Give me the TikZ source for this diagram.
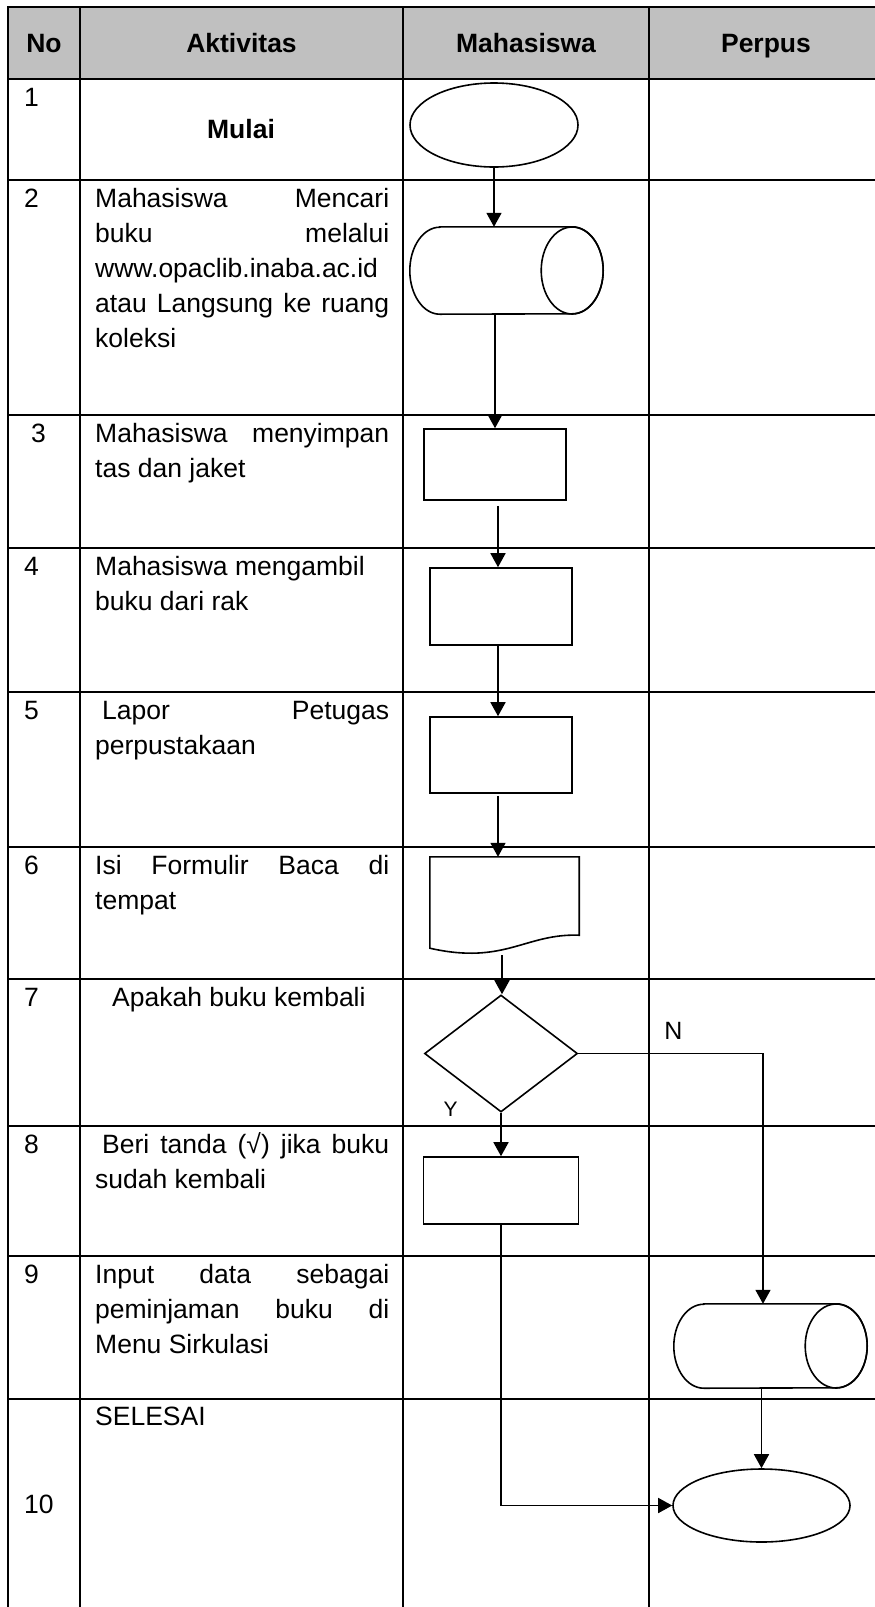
\documentclass[tikz,border=0pt]{standalone}
\usepackage{fontspec}
\setmainfont{Liberation Sans}
\usetikzlibrary{shapes.geometric,arrows.meta,calc}
\definecolor{hdgray}{HTML}{C0C0C0}
\newcommand\jl[1]{\makebox[\linewidth][s]{#1}\par}
\newcommand\nl[1]{#1\par}
\newcommand\drawcyl[2]{%
  \draw[ln] ([xshift=30pt]#1.north west) -- ([xshift=-31pt]#1.north east)
    arc[start angle=90,end angle=-90,x radius=31pt,y radius=#2]
    -- ([xshift=30pt]#1.south west)
    arc[start angle=270,end angle=90,x radius=30pt,y radius=#2] -- cycle;
  \draw[ln] ([xshift=-31pt]#1.east) ellipse[x radius=31pt,y radius=#2];
}
\begin{document}
\begin{tikzpicture}[x=1pt,y=1pt,
  grid/.style={line width=2.6pt,line cap=rect},
  ln/.style={line width=1.6pt},
  shp/.style={draw,line width=1.6pt,inner sep=0pt},
  hold/.style={draw=none,inner sep=0pt,rectangle},
  arr/.style={line width=1.6pt,-{Triangle[length=14pt,width=15pt]}},
  txt/.style={anchor=base west,inner sep=0pt,font=\fontsize{26.5}{35}\selectfont},
  hd/.style={anchor=base,inner sep=0pt,font=\fontsize{26.5}{35}\selectfont\bfseries},
  lbl/.style={inner sep=0pt}
]
\useasboundingbox (0,0) rectangle (875,-1607);
% table
\fill[hdgray] (8,-7) rectangle (875,-79);
\foreach \y in {7,79,180,415,548,692,847,979,1126,1256,1399}
  \draw[grid] (8,-\y) -- (876,-\y);
\foreach \x in {8,80,403,649}
  \draw[grid] (\x,-7) -- (\x,-1608);
% header
\node[hd] (hno) at (44,-52) {No};
\node[hd] (hakt) at (241.5,-52) {Aktivitas};
\node[hd] (hmhs) at (526,-52) {Mahasiswa};
\node[hd] (hper) at (766,-52) {Perpus};
% numbers
\node[txt] (n1) at (24,-106) {1};
\node[txt] (n2) at (24,-207) {2};
\node[txt] (n3) at (31,-442) {3};
\node[txt] (n4) at (24,-575) {4};
\node[txt] (n5) at (24,-719) {5};
\node[txt] (n6) at (24,-874) {6};
\node[txt] (n7) at (24,-1006) {7};
\node[txt] (n8) at (24,-1153) {8};
\node[txt] (n9) at (24,-1283) {9};
\node[txt] (n10) at (24,-1513) {10};
% activities
\node[hd] (a1) at (241,-138) {Mulai};
\node[txt] (a2) at (95,-207) {\parbox[t]{294pt}{\jl{Mahasiswa Mencari}\jl{buku melalui}\nl{www.opaclib.inaba.ac.id}\jl{atau Langsung ke ruang}\nl{koleksi}}};
\node[txt] (a3) at (95,-442) {\parbox[t]{294pt}{\jl{Mahasiswa menyimpan}\nl{tas dan jaket}}};
\node[txt] (a4) at (95,-575) {\parbox[t]{294pt}{\nl{Mahasiswa mengambil}\nl{buku dari rak}}};
\node[txt] (a5) at (95,-719) {\parbox[t]{294pt}{\makebox[\linewidth][s]{\hspace*{7pt}Lapor\hfill Petugas}\par\nl{perpustakaan}}};
\node[txt] (a6) at (95,-874) {\parbox[t]{294pt}{\jl{Isi Formulir Baca di}\nl{tempat}}};
\node[txt] (a7) at (112,-1006) {Apakah buku kembali};
\node[txt] (a8) at (95,-1153) {\parbox[t]{294pt}{\makebox[\linewidth][s]{\hspace*{7pt}Beri tanda (√) jika buku}\par\nl{sudah kembali}}};
\node[txt] (a9) at (95,-1283) {\parbox[t]{294pt}{\jl{Input data sebagai}\jl{peminjaman buku di}\nl{Menu Sirkulasi}}};
\node[txt] (a10) at (95,-1425) {SELESAI};
% flow shapes
\node[shp,ellipse,minimum width=168pt,minimum height=84pt] (start) at (494,-125) {};
\node[hold,minimum width=193pt,minimum height=87pt] (c2) at (506.5,-270.5) {};
\drawcyl{c2}{43.5pt}
\node[shp,minimum width=142pt,minimum height=71pt] (r3) at (495,-464.5) {};
\node[shp,minimum width=142pt,minimum height=77pt] (r4) at (501,-606.5) {};
\node[shp,minimum width=142pt,minimum height=76pt] (r5) at (501,-755) {};
\node[hold,minimum width=149pt,minimum height=78pt] (doc6) at (504.5,-896) {};
\draw[ln] (doc6.north west) -- (doc6.north east) -- (doc6.south east)
  .. controls ($(doc6.south east)+(-54,2)$) and ($(doc6.south west)+(75,-30)$)
  .. ($(doc6.south west)+(0,-13)$) -- cycle;
\node[shp,diamond,minimum width=153pt,minimum height=117pt] (dec7) at (501,-1053.5) {};
\node[shp,minimum width=155pt,minimum height=67pt] (r8) at (501,-1190.5) {};
\node[hold,minimum width=193pt,minimum height=84pt] (c9) at (770.5,-1346) {};
\drawcyl{c9}{42pt}
\node[shp,ellipse,minimum width=177pt,minimum height=73pt] (end) at (761.5,-1505.5) {};
% labels
\node[lbl,font=\fontsize{25}{30}\selectfont] (lN) at (673.5,-1031) {N};
\node[lbl,font=\fontsize{21}{25}\selectfont] (lY) at (450.5,-1109.5) {Y};
% connectors
\draw[arr] (start.south) -- (start.south |- c2.north);
\draw[arr] (r3.north |- c2.south) -- (r3.north);
\draw[arr] ($(r3.south)+(3,-5)$) -- ($(r4.north)+(-3,0)$);
\draw[arr] ($(r4.south)+(-3,0)$) -- ($(r5.north)+(-3,0)$);
\draw[arr] ($(r5.south)+(-3,-2)$) -- ($(doc6.north)+(-6.5,0)$);
\draw[arr] ($(doc6.south)+(-2.5,-20)$) -- ($(dec7.north)+(1,0)$);
\draw[arr] (dec7.south) -- (r8.north);
\coordinate (nb) at (763,-1053.5);
\draw[arr] (dec7.east) -- (nb) -- (nb |- c9.north);
\draw[arr] (end.north |- c9.south) -- (end.north);
\draw[arr] (r8.south) |- (end.west);
\end{tikzpicture}
\end{document}
